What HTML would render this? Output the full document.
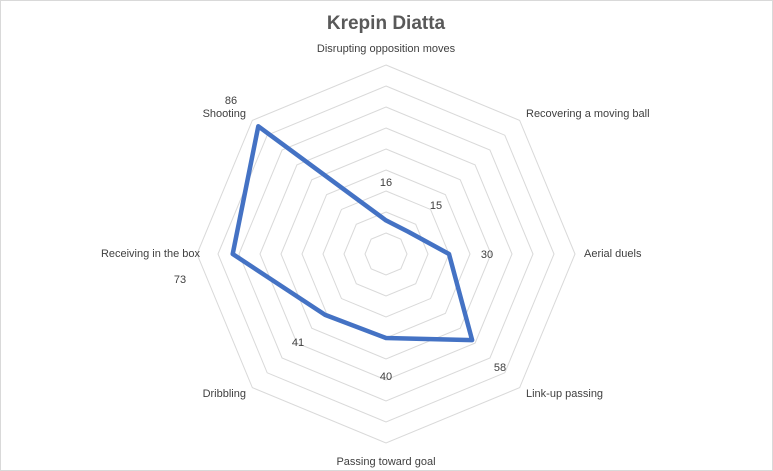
<!DOCTYPE html>
<html><head><meta charset="utf-8"><style>
body{margin:0;background:#fff}
svg{display:block;font-family:"Liberation Sans",sans-serif}
</style></head><body>
<svg id="c" width="773" height="471" viewBox="0 0 773 471">
<rect x="0.5" y="0.5" width="772" height="470" fill="#fff" stroke="#d9d9d9"/>
<text x="386" y="29" text-anchor="middle" font-size="19" font-weight="bold" fill="#595959">Krepin Diatta</text>
<g id="grid"></g><g id="series"></g><g id="labels"></g>
</svg>
<script>
const categories=["Disrupting opposition moves","Recovering a moving ball","Aerial duels","Link-up passing","Passing toward goal","Dribbling","Receiving in the box","Shooting"];
const values=[16,15,30,58,40,41,73,86];
const ringTicks=[10,20,30,40,50,60,70,80,90];
const catPos=[[386,52,"middle"],[526,117,"start"],[584,257,"start"],[526,397,"start"],[386,465,"middle"],[246,397,"end"],[200,257,"end"],[246,117,"end"]];
const valPos=[[386,186],[436,209],[487,258],[500,371],[386,380],[298,346],[180,283],[231,104]];
const cx=386,cy=254,R=189,max=90;
const NS="http://www.w3.org/2000/svg";
function pt(i,v){const a=-Math.PI/2+i*2*Math.PI/categories.length;const r=v/max*R;return [cx+r*Math.cos(a),cy+r*Math.sin(a)];}
const grid=document.getElementById('grid');
ringTicks.forEach(t=>{const p=document.createElementNS(NS,'polygon');
p.setAttribute('points',categories.map((c,i)=>pt(i,t).join(',')).join(' '));
p.setAttribute('fill','none');p.setAttribute('stroke','#d9d9d9');p.setAttribute('stroke-width','1');


grid.appendChild(p);});
const s=document.createElementNS(NS,'polygon');
s.setAttribute('points',values.map((v,i)=>pt(i,v).join(',')).join(' '));
s.setAttribute('fill','none');s.setAttribute('stroke','#4472c4');s.setAttribute('stroke-width','4.5');s.setAttribute('stroke-linejoin','round');


document.getElementById('series').appendChild(s);
const lg=document.getElementById('labels');
categories.forEach((c,i)=>{const t=document.createElementNS(NS,'text');
t.setAttribute('x',catPos[i][0]);t.setAttribute('y',catPos[i][1]);t.setAttribute('text-anchor',catPos[i][2]);
t.setAttribute('font-size','11');t.setAttribute('fill','#404040');t.textContent=c;


lg.appendChild(t);
const v=document.createElementNS(NS,'text');
v.setAttribute('x',valPos[i][0]);v.setAttribute('y',valPos[i][1]);v.setAttribute('text-anchor','middle');
v.setAttribute('font-size','11');v.setAttribute('fill','#404040');v.textContent=values[i];


lg.appendChild(v);});
</script>
</body></html>
